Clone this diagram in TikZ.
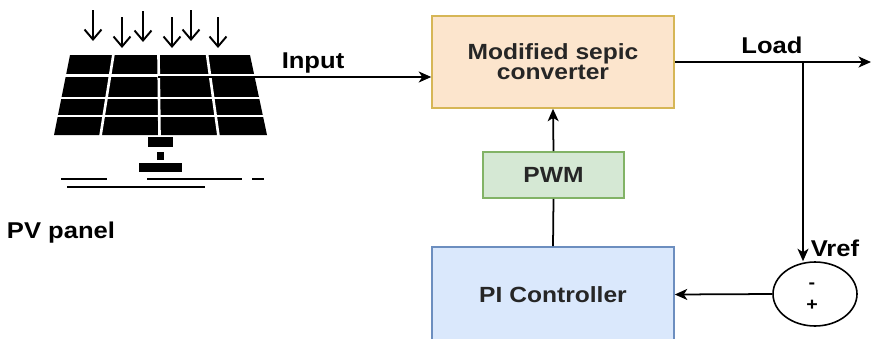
\documentclass[tikz,border=0pt]{standalone}
\usepackage{fontspec}
\setmainfont{Liberation Sans}[FakeStretch=1.12]
\usetikzlibrary{arrows}
\usetikzlibrary{arrows.meta}
\usetikzlibrary{shapes.geometric}

\definecolor{convfill}{RGB}{252,229,205}
\definecolor{convdraw}{RGB}{214,182,86}
\definecolor{pwmfill}{RGB}{213,232,212}
\definecolor{pwmdraw}{RGB}{130,179,102}
\definecolor{pifill}{RGB}{218,232,252}
\definecolor{pidraw}{RGB}{108,142,191}

\begin{document}
\begin{tikzpicture}[x=0.02cm, y=-0.02cm, line width=1pt,
  >={Stealth[length=2.5mm,width=2.2mm,inset=0.7mm]},
  lbl/.style={font=\bfseries\fontsize{13}{13}\selectfont},
  blk/.style={draw, line width=0.9pt, align=center, text=black!85,
    font=\bfseries\fontsize{12.5}{11.5}\selectfont},
  sunray/.style={line width=1.1pt, -{Straight Barb[length=2mm,width=3.4mm]}}]

\useasboundingbox (0,0) rectangle (871,338);
\clip (0,0) rectangle (871,338);

%PV PANEL
%Cells
\fill (70,55) -- (250,55) -- (267,135) -- (54,135) -- cycle;
\foreach \y in {75.5,98,116}
{
\draw [white, line width=1.3pt] (40,\y) -- (280,\y);
}
\foreach \a/\b in {113.5/100.5,158.5/159.5,207/218.5}
{
\draw [white, line width=1.5pt] (\a,54) -- (\b,136);
}
%Stand
\fill (148,137) rectangle (173,147);
\fill (157,152) rectangle (164,160);
\fill (139,163) rectangle (182,172);
%Ground
\draw [line width=1.1pt] (61,179) -- (107,179) (147,179) -- (242,179)
  (252,179) -- (264,179) (67,187) -- (205,187);
%Sun rays
\foreach \x/\t in {93/10,122/17,143/11,172/17,191/10,218/17}
{
\draw [sunray] (\x,\t) -- (\x,\t+31);
}
\node [lbl] (pvlabel) at (61,233) {PV panel};

%BLOCKS
\node [blk, fill=convfill, draw=convdraw, minimum width=4.84cm, minimum height=1.84cm]
  (conv) at (553,62) {Modified sepic\\converter};
\node [blk, fill=pwmfill, draw=pwmdraw, minimum width=2.82cm, minimum height=0.92cm]
  (pwm) at (553.5,175) {PWM};
\node [blk, fill=pifill, draw=pidraw, minimum width=4.84cm, minimum height=1.9cm]
  (pi) at (553,294.5) {PI Controller};

%Comparator
\node [draw, ellipse, line width=0.9pt, inner sep=0pt,
  minimum width=1.68cm, minimum height=1.28cm] (sum) at (815,294) {};
\node [font=\bfseries\fontsize{10}{10}\selectfont] (minus) at (812,286) {-};
\node [font=\bfseries\fontsize{10}{10}\selectfont] (plus) at (812,305) {+};

%Arrows & Labels
\coordinate (pvout) at (158,77);
\draw [->] (pvout) -- (conv.west |- pvout);
\node [lbl] (inlabel) at (313,63) {Input};

\coordinate (loadend) at (871,62);
\draw [->] (conv.east) -- (loadend);
\node [lbl] (loadlabel) at (772,45) {Load};

\coordinate (tap) at (803,62);
\draw [->] (tap) -- (tap |- sum.north);
\node [lbl] (vref) at (835,248) {Vref};

\draw [->] (sum.west) -- (pi.east);
\draw [->] (pwm.north) -- (conv.south);
\draw (pi.north) -- (pwm.south);

\end{tikzpicture}
\end{document}
